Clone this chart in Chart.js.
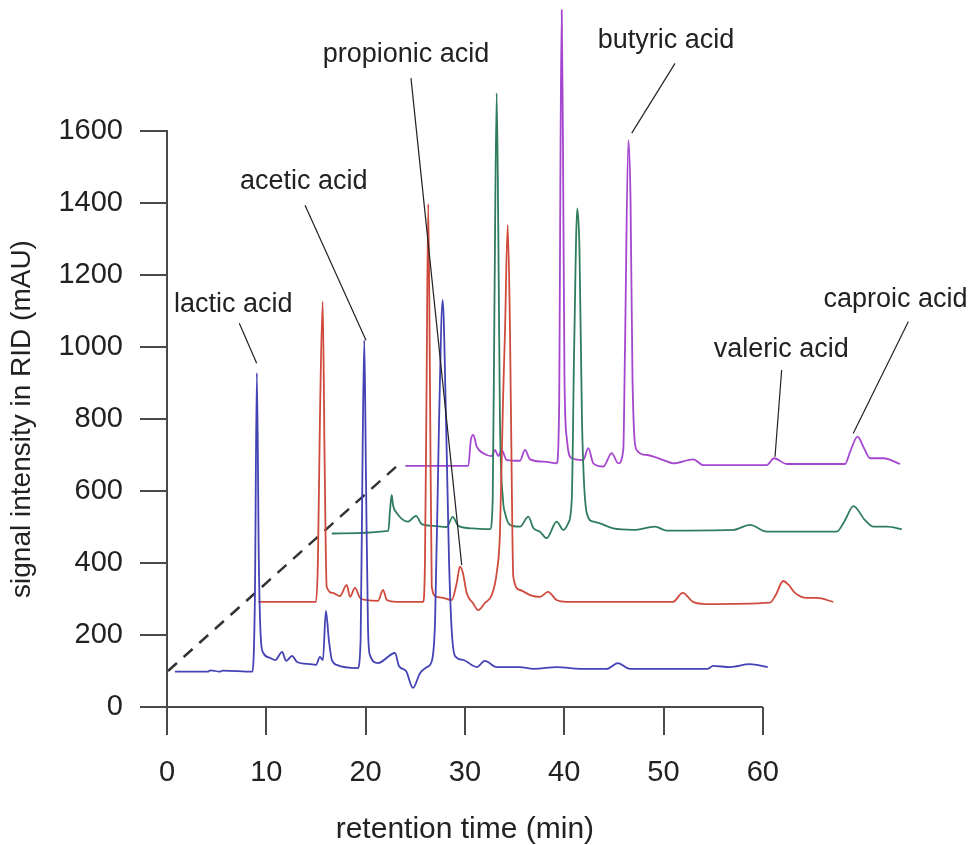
<!DOCTYPE html>
<html>
<head>
<meta charset="utf-8">
<script src="https://cdn.jsdelivr.net/npm/chart.js@4.4.0/dist/chart.umd.min.js"></script>
<style>
  html, body { margin: 0; padding: 0; background: #fff; }
</style>
</head>
<body>
<canvas id="chromChart" width="973" height="845"></canvas>
<script>
// traces as plotted (stacked waterfall), retention time in min / signal in mAU
const blueTime = [0.8, 4.1, 4.4, 5.3, 5.6, 8.6, 8.85, 9.05, 9.25, 9.45, 9.7, 10.4, 10.9, 11.6, 12.0, 12.6, 13.1, 14.4, 15.0, 15.4, 15.7, 16.0, 16.3, 16.6, 17.1, 19.2, 19.5, 19.7, 19.87, 20.04, 20.24, 20.44, 21.25, 22.96, 23.36, 24.07, 24.77, 25.48, 26.18, 26.7, 27.0, 27.4, 27.76, 28.1, 28.4, 28.67, 29.0, 29.8, 31.2, 32.0, 33.2, 35.5, 36.9, 39.3, 41.6, 44.3, 45.4, 46.6, 54.4, 55.0, 56.7, 58.7, 60.5];
const blueSignal = [98, 98, 102, 98, 101, 98, 300, 928, 400, 190, 150, 136, 130, 153, 128, 142, 125, 119, 117, 139, 130, 267, 186, 131, 117, 108, 186, 714, 1019, 630, 222, 144, 122, 150, 114, 100, 53, 94, 111, 131, 242, 797, 1131, 797, 408, 214, 142, 131, 111, 128, 111, 111, 106, 111, 106, 106, 122, 106, 106, 114, 111, 119, 111];

const redTime = [9.2, 15.0, 15.2, 15.4, 15.68, 15.86, 16.08, 16.7, 17.4, 18.1, 18.43, 18.93, 19.44, 20.1, 21.25, 21.75, 22.15, 23.13, 25.81, 25.98, 26.13, 26.31, 26.48, 26.66, 27.16, 27.8, 28.67, 29.17, 29.5, 29.8, 30.18, 30.8, 31.35, 32.02, 32.7, 33.2, 33.53, 33.84, 34.04, 34.31, 34.54, 34.74, 34.87, 35.55, 36.56, 37.56, 38.37, 39.24, 40.25, 50.96, 51.93, 52.97, 54.35, 60.72, 61.3, 62.06, 62.6, 63.24, 64.42, 65.43, 67.1];
const redSignal = [292, 292, 408, 797, 1126, 714, 334, 317, 308, 339, 306, 331, 303, 297, 295, 325, 297, 292, 292, 408, 853, 1397, 908, 334, 306, 303, 297, 344, 390, 372, 317, 289, 269, 289, 311, 372, 483, 853, 1047, 1339, 1047, 575, 362, 325, 311, 306, 320, 297, 292, 292, 317, 292, 286, 290, 311, 350, 339, 317, 303, 303, 292];

const greenTime = [16.6, 22.29, 22.46, 22.63, 22.76, 23.13, 24.27, 25.08, 25.65, 26.82, 28.17, 28.77, 29.34, 30.85, 32.53, 32.8, 32.98, 33.2, 33.38, 33.53, 33.84, 34.04, 34.54, 35.55, 36.39, 36.89, 37.56, 38.24, 39.24, 39.91, 40.41, 40.76, 41.0, 41.32, 41.54, 41.79, 42.27, 42.93, 43.6, 44.94, 46.96, 49.14, 50.32, 57.03, 58.71, 60.39, 67.44, 68.28, 69.12, 70.29, 71.13, 72.48, 74.0];
const greenSignal = [482, 489, 547, 589, 561, 539, 515, 531, 508, 503, 500, 528, 503, 496, 494, 575, 1131, 1705, 1269, 797, 575, 539, 506, 501, 529, 497, 487, 469, 515, 492, 511, 575, 992, 1385, 1269, 797, 539, 515, 510, 496, 492, 501, 490, 492, 506, 487, 487, 519, 558, 519, 501, 501, 494];

const purpleTime = [24.0, 30.34, 30.6, 30.85, 31.19, 31.85, 32.7, 33.03, 33.36, 33.7, 34.21, 35.55, 36.05, 36.56, 38.24, 39.24, 39.5, 39.63, 39.75, 39.88, 40.03, 40.28, 40.76, 41.92, 42.43, 42.93, 43.94, 44.78, 45.45, 45.95, 46.12, 46.46, 46.68, 46.88, 47.3, 48.31, 49.98, 50.99, 53.0, 54.01, 60.39, 61.13, 62.41, 68.28, 68.78, 69.54, 70.19, 70.8, 72.13, 73.82];
const purpleSignal = [670, 670, 742, 756, 723, 705, 697, 714, 697, 714, 686, 684, 714, 688, 681, 677, 853, 1547, 1936, 1547, 908, 742, 691, 686, 719, 677, 668, 705, 677, 714, 992, 1575, 1408, 908, 714, 700, 686, 677, 688, 672, 672, 691, 675, 675, 708, 751, 719, 691, 691, 675];

// dashed guide through the trace origins
const guideTime = [0.1, 23.5];
const guideSignal = [100, 678];

const xTicks = [0, 10, 20, 30, 40, 50, 60];
const yTicks = [0, 200, 400, 600, 800, 1000, 1200, 1400, 1600];

// peak names: text baseline point, leader line start and end (time, signal)
const peakLabels = [
  { text: "lactic acid", at: [6.68, 1097], from: [7.28, 1066], to: [9.03, 955] },
  { text: "acetic acid", at: [13.77, 1439], from: [13.9, 1394], to: [20.04, 1019] },
  { text: "propionic acid", at: [24.07, 1792], from: [24.57, 1747], to: [29.68, 394] },
  { text: "butyric acid", at: [50.25, 1831], from: [51.16, 1788], to: [46.8, 1594] },
  { text: "valeric acid", at: [61.85, 972], from: [61.9, 936], to: [61.23, 695] },
  { text: "caproic acid", at: [73.36, 1110], from: [74.65, 1070], to: [69.1, 760] }
];

const FONT = "'Liberation Sans', Arial, sans-serif";
const AXIS = "#4a4a4a";
const INK = "#222";

function pairs(xs, ys) {
  return xs.map((x, i) => ({ x: x, y: ys[i] }));
}

function trace(label, xs, ys, color) {
  return {
    label: label,
    data: pairs(xs, ys),
    borderColor: color,
    borderWidth: 1.8,
    pointRadius: 0,
    cubicInterpolationMode: "monotone",
    clip: false
  };
}

// x axis line and title only span the 0-60 min part of the scale
const axisLinePlugin = {
  id: "axisLine",
  beforeDatasetsDraw(chart) {
    const { ctx, scales: { x }, chartArea } = chart;
    const x0 = x.getPixelForValue(xTicks[0]);
    const x1 = x.getPixelForValue(xTicks[xTicks.length - 1]);
    ctx.save();
    ctx.strokeStyle = AXIS;
    ctx.lineWidth = 2;
    ctx.beginPath();
    ctx.moveTo(x0, chartArea.bottom);
    ctx.lineTo(x1, chartArea.bottom);
    ctx.stroke();
    ctx.fillStyle = INK;
    ctx.font = "30px " + FONT;
    ctx.textAlign = "center";
    ctx.textBaseline = "middle";
    ctx.fillText("retention time (min)", (x0 + x1) / 2, x.bottom - 15);
    ctx.restore();
  }
};

const peakLabelPlugin = {
  id: "peakLabels",
  afterDatasetsDraw(chart) {
    const { ctx, scales: { x, y } } = chart;
    ctx.save();
    ctx.strokeStyle = INK;
    ctx.lineWidth = 1.2;
    ctx.fillStyle = INK;
    ctx.font = "27px " + FONT;
    ctx.textAlign = "center";
    ctx.textBaseline = "alphabetic";
    peakLabels.forEach(p => {
      ctx.beginPath();
      ctx.moveTo(x.getPixelForValue(p.from[0]), y.getPixelForValue(p.from[1]));
      ctx.lineTo(x.getPixelForValue(p.to[0]), y.getPixelForValue(p.to[1]));
      ctx.stroke();
      ctx.fillText(p.text, x.getPixelForValue(p.at[0]), y.getPixelForValue(p.at[1]));
    });
    ctx.restore();
  }
};

const ctx = document.getElementById("chromChart").getContext("2d");

new Chart(ctx, {
  type: "line",
  data: {
    datasets: [
      trace("sample 1", blueTime, blueSignal, "#4343b6"),
      trace("sample 2", redTime, redSignal, "#cf4a3c"),
      trace("sample 3", greenTime, greenSignal, "#2f7d5c"),
      trace("sample 4", purpleTime, purpleSignal, "#a446cf"),
      {
        label: "guide",
        data: pairs(guideTime, guideSignal),
        borderColor: "#333",
        borderWidth: 2.5,
        borderDash: [12, 9],
        pointRadius: 0,
        clip: false
      }
    ]
  },
  options: {
    responsive: false,
    animation: false,
    devicePixelRatio: 1,
    layout: { padding: { top: 131, right: 61.25, left: 0, bottom: 0 } },
    plugins: {
      legend: { display: false },
      tooltip: { enabled: false }
    },
    scales: {
      x: {
        type: "linear",
        min: 0,
        max: 75,
        afterBuildTicks: s => { s.ticks = xTicks.map(v => ({ value: v })); },
        afterFit: s => { s.height = 138; },
        grid: { drawOnChartArea: false, drawTicks: true, tickLength: 28, color: AXIS, lineWidth: 2 },
        border: { display: false },
        ticks: {
          color: INK, padding: 21, maxRotation: 0, autoSkip: false,
          font: { family: FONT, size: 29 },
          callback: v => String(v)
        },
        title: { display: false }
      },
      y: {
        type: "linear",
        min: 0,
        max: 1600,
        afterBuildTicks: s => { s.ticks = yTicks.map(v => ({ value: v })); },
        afterFit: s => { s.width = 167; },
        grid: { drawOnChartArea: false, drawTicks: true, tickLength: 27, color: AXIS, lineWidth: 2 },
        border: { display: true, color: AXIS, width: 2 },
        ticks: {
          color: INK, padding: 17,
          font: { family: FONT, size: 29 },
          callback: v => String(v)
        },
        title: {
          display: true,
          text: "signal intensity in RID (mAU)",
          color: INK,
          font: { family: FONT, size: 28, lineHeight: 1.2 },
          padding: { top: 5, bottom: 0 }
        }
      }
    }
  },
  plugins: [axisLinePlugin, peakLabelPlugin]
});
</script>
</body>
</html>
